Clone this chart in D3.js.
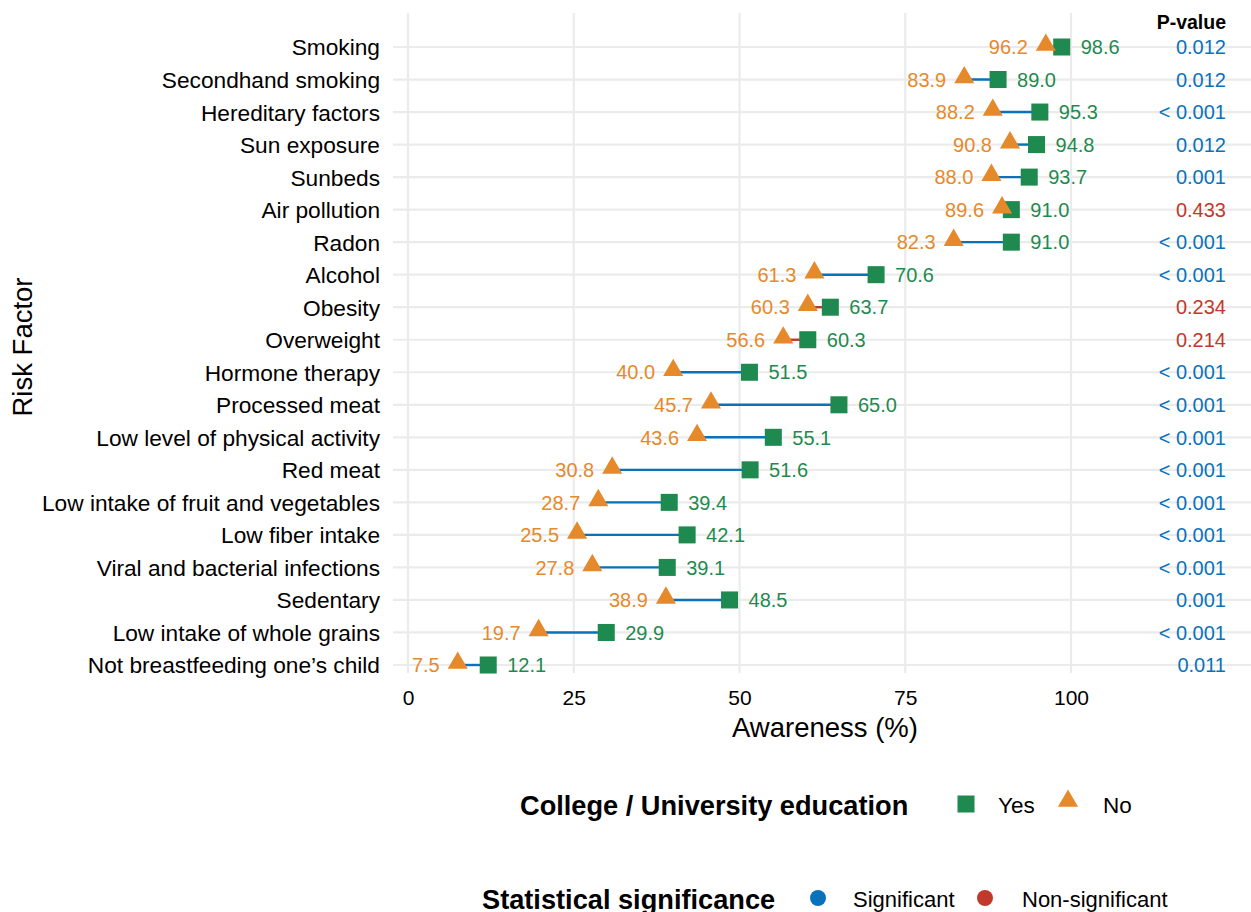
<!DOCTYPE html>
<html>
<head>
<meta charset="utf-8">
<script src="https://cdn.jsdelivr.net/npm/d3@7"></script>
<style>
  body { margin: 0; background: #fff; }
  text { font-family: "Liberation Sans", Arial, sans-serif; }
</style>
</head>
<body>
<script>
// Data (top to bottom)
const factors = [
  "Smoking", "Secondhand smoking", "Hereditary factors", "Sun exposure", "Sunbeds",
  "Air pollution", "Radon", "Alcohol", "Obesity", "Overweight", "Hormone therapy",
  "Processed meat", "Low level of physical activity", "Red meat",
  "Low intake of fruit and vegetables", "Low fiber intake",
  "Viral and bacterial infections", "Sedentary", "Low intake of whole grains",
  "Not breastfeeding one\u2019s child"
];
const yesValues = [98.6, 89.0, 95.3, 94.8, 93.7, 91.0, 91.0, 70.6, 63.7, 60.3, 51.5, 65.0, 55.1, 51.6, 39.4, 42.1, 39.1, 48.5, 29.9, 12.1];
const noValues = [96.2, 83.9, 88.2, 90.8, 88.0, 89.6, 82.3, 61.3, 60.3, 56.6, 40.0, 45.7, 43.6, 30.8, 28.7, 25.5, 27.8, 38.9, 19.7, 7.5];
const pValues = ["0.012", "0.012", "< 0.001", "0.012", "0.001", "0.433", "< 0.001", "< 0.001", "0.234", "0.214",
  "< 0.001", "< 0.001", "< 0.001", "< 0.001", "< 0.001", "< 0.001", "< 0.001", "0.001", "< 0.001", "0.011"];
const significant = [true, true, true, true, true, false, true, true, false, false,
  true, true, true, true, true, true, true, true, true, true];
const xTicks = [0, 25, 50, 75, 100];

const data = factors.map((f, i) => ({
  factor: f, yes: yesValues[i], no: noValues[i], p: pValues[i], sig: significant[i]
}));

const W = 1251, H = 912;
const green = "#1f8a4f", orange = "#e6892b", blue = "#0a72ba", red = "#c0392b";
const gridCol = "#ebebeb";

const svg = d3.select("body").append("svg").attr("width", W).attr("height", H);

// panel
const panel = { left: 393, right: 1251, top: 13, bottom: 673 };

const x = d3.scaleLinear().domain([0, 100]).range([408, 1071]);
const y = d3.scalePoint().domain(factors).range([47, 665]);

// grid
svg.append("g").selectAll("line").data(factors).enter().append("line")
  .attr("x1", panel.left).attr("x2", panel.right)
  .attr("y1", d => y(d)).attr("y2", d => y(d))
  .attr("stroke", gridCol).attr("stroke-width", 2.2);
svg.append("g").selectAll("line").data(xTicks).enter().append("line")
  .attr("x1", d => x(d)).attr("x2", d => x(d))
  .attr("y1", panel.top).attr("y2", panel.bottom)
  .attr("stroke", gridCol).attr("stroke-width", 2.2);

// x axis
const xAxis = d3.axisBottom(x).tickValues(xTicks).tickSize(0).tickPadding(0);
const gx = svg.append("g").attr("transform", `translate(0,${panel.bottom})`).call(xAxis);
gx.select(".domain").remove();
gx.selectAll("text").attr("dy", null).attr("y", 32)
  .style("font-size", "21px").attr("fill", "#000");

// y axis
const yAxis = d3.axisLeft(y).tickSize(0).tickPadding(0);
const gy = svg.append("g").attr("transform", "translate(380,0)").call(yAxis);
gy.select(".domain").remove();
gy.selectAll("text").style("font-size", "22.7px").attr("fill", "#000").attr("dy", "0.35em");

// axis titles
svg.append("text").attr("x", 825).attr("y", 737).attr("text-anchor", "middle")
  .style("font-size", "27.5px").text("Awareness (%)");
svg.append("text").attr("transform", "translate(32,347) rotate(-90)").attr("text-anchor", "middle")
  .style("font-size", "27.5px").text("Risk Factor");

// segments
svg.append("g").selectAll("line").data(data).enter().append("line")
  .attr("x1", d => x(d.no)).attr("x2", d => x(d.yes))
  .attr("y1", d => y(d.factor)).attr("y2", d => y(d.factor))
  .attr("stroke", d => d.sig ? blue : red).attr("stroke-width", 2.4);

// points
const sq = d3.symbol().type(d3.symbolSquare).size(290);
const tri = d3.symbol().type(d3.symbolTriangle).size(175);
svg.append("g").selectAll("path").data(data).enter().append("path")
  .attr("d", sq).attr("fill", green)
  .attr("transform", d => `translate(${x(d.yes)},${y(d.factor)})`);
svg.append("g").selectAll("path").data(data).enter().append("path")
  .attr("d", tri).attr("fill", orange)
  .attr("transform", d => `translate(${x(d.no)},${y(d.factor) - 2})`);

// value labels
svg.append("g").selectAll("text").data(data).enter().append("text")
  .attr("x", d => x(d.yes) + 19).attr("y", d => y(d.factor)).attr("dy", "0.36em")
  .attr("fill", green).style("font-size", "20px").text(d => d.yes.toFixed(1));
svg.append("g").selectAll("text").data(data).enter().append("text")
  .attr("x", d => x(d.no) - 18).attr("y", d => y(d.factor)).attr("dy", "0.36em")
  .attr("text-anchor", "end")
  .attr("fill", orange).style("font-size", "20px").text(d => d.no.toFixed(1));

// p-values
svg.append("text").attr("x", 1226).attr("y", 29).attr("text-anchor", "end")
  .style("font-size", "19.5px").style("font-weight", "bold").text("P-value");
svg.append("g").selectAll("text").data(data).enter().append("text")
  .attr("x", 1226).attr("y", d => y(d.factor)).attr("dy", "0.36em")
  .attr("text-anchor", "end")
  .attr("fill", d => d.sig ? blue : red).style("font-size", "20px").text(d => d.p);

// legend 1
const lg1 = svg.append("g");
lg1.append("text").attr("x", 520).attr("y", 815).style("font-size", "27.2px")
  .style("font-weight", "bold").text("College / University education");
lg1.append("path").attr("d", sq).attr("fill", green).attr("transform", "translate(966,804)");
lg1.append("text").attr("x", 998).attr("y", 813).style("font-size", "22.5px").text("Yes");
lg1.append("path").attr("d", tri).attr("fill", orange).attr("transform", "translate(1068,801)");
lg1.append("text").attr("x", 1103).attr("y", 813).style("font-size", "22.5px").text("No");

// legend 2
const lg2 = svg.append("g");
lg2.append("text").attr("x", 482).attr("y", 909).style("font-size", "27.2px")
  .style("font-weight", "bold").text("Statistical significance");
lg2.append("circle").attr("cx", 818).attr("cy", 898).attr("r", 8).attr("fill", blue);
lg2.append("text").attr("x", 853).attr("y", 907).style("font-size", "22px").text("Significant");
lg2.append("circle").attr("cx", 985).attr("cy", 898).attr("r", 8).attr("fill", red);
lg2.append("text").attr("x", 1022).attr("y", 907).style("font-size", "22px").text("Non-significant");
</script>
</body>
</html>
